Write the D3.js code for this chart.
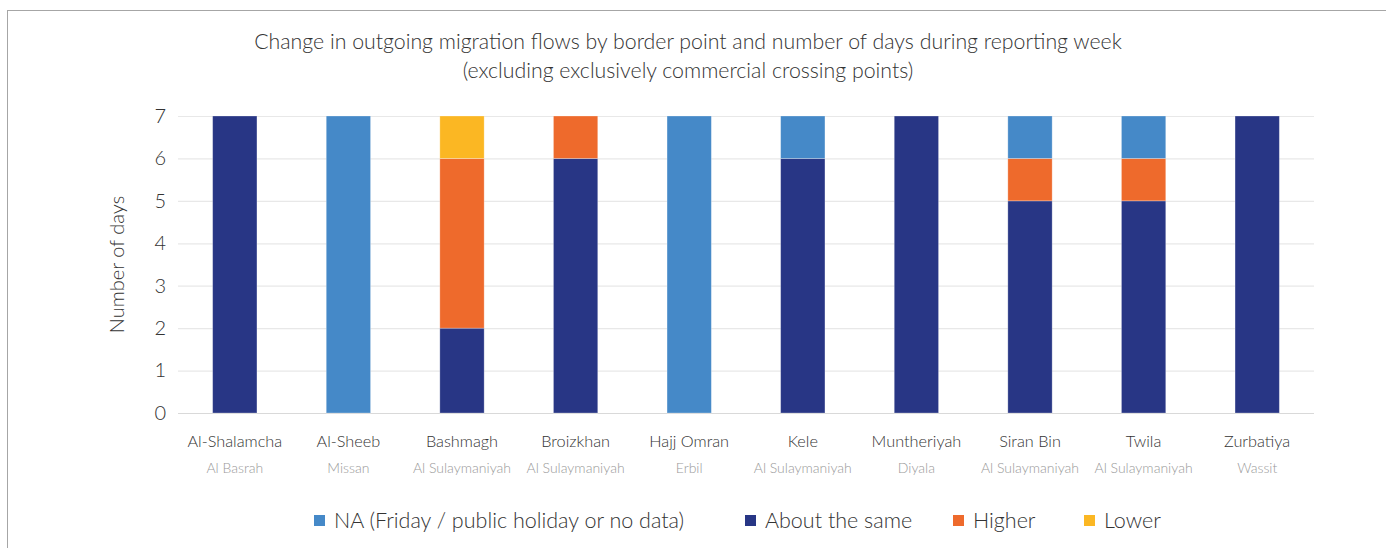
<!DOCTYPE html>
<html>
<head>
<meta charset="utf-8">
<script src="https://cdn.jsdelivr.net/npm/d3@7"></script>
<style>
  html, body { margin: 0; padding: 0; background: #fff; }
  svg { display: block; font-family: Lato, "Open Sans", sans-serif; font-weight: 300; }
</style>
</head>
<body>
<svg id="chart" width="1386" height="548"></svg>
<script>
// Border crossing points and their governorates
const points = ["Al-Shalamcha", "Al-Sheeb", "Bashmagh", "Broizkhan", "Hajj Omran", "Kele", "Muntheriyah", "Siran Bin", "Twila", "Zurbatiya"];
const governorates = ["Al Basrah", "Missan", "Al Sulaymaniyah", "Al Sulaymaniyah", "Erbil", "Al Sulaymaniyah", "Diyala", "Al Sulaymaniyah", "Al Sulaymaniyah", "Wassit"];

// Number of days per flow category (stacked bottom to top: same, higher, lower, NA)
const aboutSame = [7, 0, 2, 6, 0, 6, 7, 5, 5, 7];
const higher    = [0, 0, 4, 1, 0, 0, 0, 1, 1, 0];
const lower     = [0, 0, 1, 0, 0, 0, 0, 0, 0, 0];
const notAvail  = [0, 7, 0, 0, 7, 1, 0, 1, 1, 0];

const yTicks = [0, 1, 2, 3, 4, 5, 6, 7];

const seriesKeys = ["same", "higher", "lower", "na"];
const seriesColor = { same: "#283685", higher: "#EE6A2C", lower: "#FBB723", na: "#4589C8" };
const legendItems = [
  { key: "na", label: "NA (Friday / public holiday or no data)" },
  { key: "same", label: "About the same" },
  { key: "higher", label: "Higher" },
  { key: "lower", label: "Lower" }
];

const rows = points.map((p, i) => ({
  point: p, gov: governorates[i],
  same: aboutSame[i], higher: higher[i], lower: lower[i], na: notAvail[i]
}));

const svg = d3.select("#chart");

// outer frame
svg.append("rect")
  .attr("x", 7.5).attr("y", 10.5)
  .attr("width", 1400).attr("height", 600)
  .attr("fill", "none").attr("stroke", "#a6a6a6").attr("stroke-width", 1);

const margin = { left: 178, right: 72, top: 116, bottom: 135 };
const W = 1386, H = 548;

const x = d3.scaleBand().domain(points).range([margin.left, W - margin.right]).padding(0);
const y = d3.scaleLinear().domain([0, 7]).range([H - margin.bottom, margin.top]);

// title
const title = svg.append("text")
  .attr("x", 688).attr("text-anchor", "middle")
  .attr("font-size", 21.3).attr("fill", "#333");
title.append("tspan").attr("x", 688).attr("y", 49)
  .text("Change in outgoing migration flows by border point and number of days during reporting week");
title.append("tspan").attr("x", 688).attr("y", 78)
  .text("(excluding exclusively commercial crossing points)");

// gridlines + y tick labels
const yAxis = d3.axisLeft(y).tickValues(yTicks).tickFormat(d3.format("d"))
  .tickSize(-(W - margin.left - margin.right)).tickPadding(12);
const gy = svg.append("g").attr("transform", `translate(${margin.left},0)`).call(yAxis);
gy.select(".domain").remove();
gy.selectAll(".tick line").attr("stroke", d => d === 0 ? "#d9d9d9" : "#e8e8e8").attr("stroke-width", 1.2);
gy.selectAll(".tick text").attr("font-size", 20).attr("fill", "#333")
  .attr("font-family", "Lato, sans-serif").attr("font-weight", 300);

// y axis title
svg.append("text")
  .attr("transform", `translate(124, ${(y(0) + y(7)) / 2}) rotate(-90)`)
  .attr("text-anchor", "middle").attr("font-size", 20).attr("fill", "#333")
  .text("Number of days");

// stacked bars
const stack = d3.stack().keys(seriesKeys)(rows);
const barW = x.bandwidth() * 0.39;
svg.append("g").selectAll("g")
  .data(stack).join("g")
  .attr("fill", d => seriesColor[d.key])
  .selectAll("rect")
  .data(d => d.filter(s => s[1] > s[0]))
  .join("rect")
  .attr("x", d => x(d.data.point) + (x.bandwidth() - barW) / 2)
  .attr("width", barW)
  .attr("y", d => y(d[1]))
  .attr("height", d => y(d[0]) - y(d[1]))
  .attr("stroke", "#fff").attr("stroke-opacity", 0.35).attr("stroke-width", 0.8);

// category labels: crossing point name with governorate beneath
const gx = svg.append("g");
gx.selectAll("text.pt").data(rows).join("text").attr("class", "pt")
  .attr("x", d => x(d.point) + x.bandwidth() / 2).attr("y", 447)
  .attr("text-anchor", "middle").attr("font-size", 16.3).attr("fill", "#333")
  .text(d => d.point);
gx.selectAll("text.gov").data(rows).join("text").attr("class", "gov")
  .attr("x", d => x(d.point) + x.bandwidth() / 2).attr("y", 473)
  .attr("text-anchor", "middle").attr("font-size", 14).attr("fill", "#999")
  .text(d => d.gov);

// legend
const legendX = [314, 745, 953, 1084];
const lg = svg.append("g").selectAll("g").data(legendItems).join("g")
  .attr("transform", (d, i) => `translate(${legendX[i]}, 521)`);
lg.append("rect").attr("x", 0).attr("y", -6).attr("width", 11).attr("height", 11)
  .attr("fill", d => seriesColor[d.key]);
lg.append("text").attr("x", 20).attr("y", 7).attr("font-size", 21.5).attr("fill", "#333")
  .text(d => d.label);
</script>
</body>
</html>
